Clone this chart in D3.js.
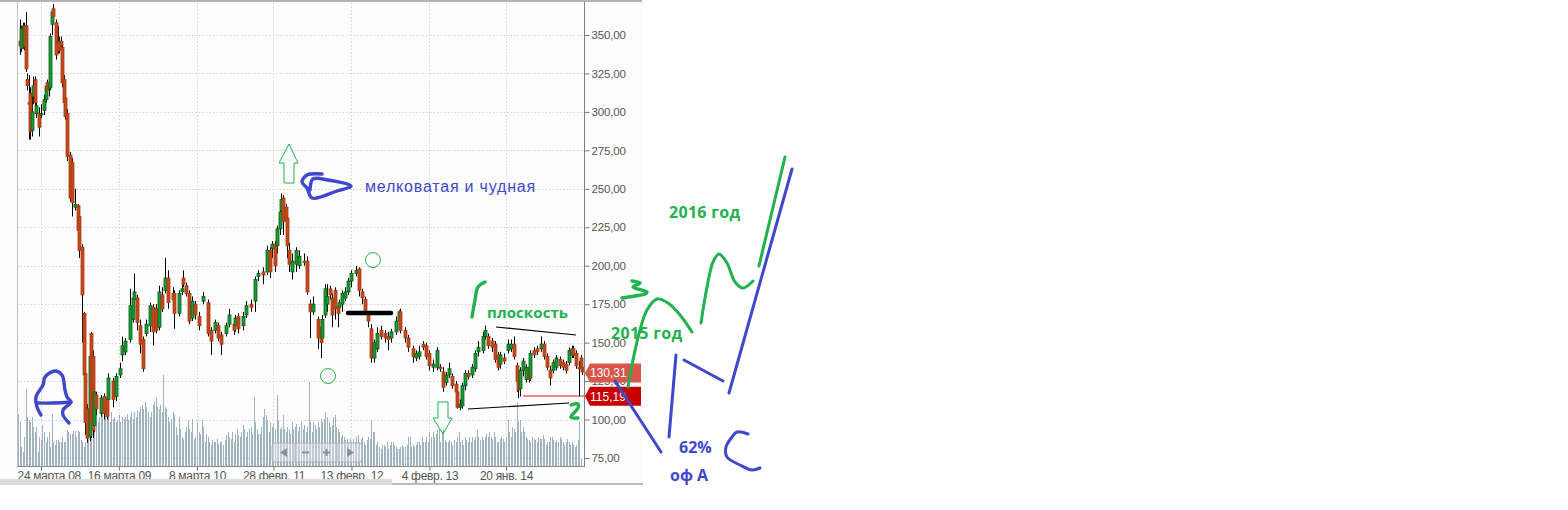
<!DOCTYPE html>
<html><head><meta charset="utf-8">
<script src="https://cdn.jsdelivr.net/npm/d3@7/dist/d3.min.js"></script>
<style>html,body{margin:0;padding:0;background:#fff}svg{display:block}</style>
</head><body><svg id="c" width="1568" height="510"></svg>
<script>
// ---- candle data: week index since chart start and OHLC prices ----
const weeks=[1,2,3,4,5,6,7,8,9,10, 11,12,14,15,17,18,19,20,21,22, 23,25,26,27,28,29,30,31,32,34, 35,37,39,40,42,43,44,45,47,48,
49,50,51,54,56,58,59,62,64,67, 68,70,73,75,76,78,80,82,84,86, 88,90,92,94,96,98,101,102,105,107, 108,110,112,114,116,118,121,124,126,129,
131,133,136,138,141,142,144,147,149,152, 155,157,160,163,165,166,168,169,171,172, 173,175,176,177,179,182,184,187,189,191, 193,196,198,199,201,202,204,205,207,209,
210,212,214,216,218,221,223,225,227,229, 231,233,235,237,240,242,244,247,249,250, 253,255,258,260,262,265,267,269,271,274, 276,278,280,282,284,286,287,289,290,292,
294,297,299,301,304,305,307,310,312,314, 315,318,320,322,324,326,327,328,330,332, 334,335,337,339,342,344,346,348,350,352, 354,356,358,360,362,363,365,367,368,369];
const opens=[346,341,356,342,356,321,306,312,288,310, 321,299,299,298,301,308,319,315,316,357, 367,358,345,345,346,342,321,309,299,272, 267,238,239,232,212,169,130,107,89,156,
141,96,116,104,115,114,113,125,115,129, 142,144,152,165,178,179,161,152,156,161, 173,172,160,181,184,192,182,182,169,183, 192,187,182,166,175,167,177,176,158,158,
161,155,156,162,162,161,167,161,168,175, 177,193,196,196,210,211,214,213,224,236, 244,238,231,210,196,201,200,203,203,175, 170,165,160,153,168,175,185,179,184,173,
173,175,179,183,190,195,198,183,178,168, 159,140,146,158,156,154,153,157,164,170, 158,153,146,140,141,149,148,143,134,134, 134,131,124,129,128,123,118,108,109,122,
130,129,133,144,145,154,154,151,149,142, 136,140,145,146,149,135,125,120,132,126, 134,127,145,146,146,149,141,132,132,134, 139,137,136,137,142,146,143,134,140,134];
const closes=[343,354,343,356,328,317,305,287,300,317, 306,304,290,299,308,317,314,317,349,365, 362,337,346,340,343,319,306,297,271,244, 241,240,223,210,181,129,98,88,141,98,
93,118,107,114,104,102,127,113,128,133, 148,151,174,179,183,163,149,133,162,174, 157,158,183,172,192,176,178,169,182,185, 188,182,164,177,168,161,180,156,151,163,
153,149,161,168,158,166,159,167,174,173, 191,195,194,210,196,214,200,224,235,243, 229,229,213,201,203,210,206,202,183,170, 175,153,150,165,185,180,181,168,172,169,
176,182,183,190,195,197,184,179,171,164, 140,150,156,154,153,152,157,164,170,158, 153,147,141,143,144,147,141,135,136,145, 133,121,129,133,122,118,108,110,122,130,
128,134,143,147,154,158,148,147,139,134, 142,138,149,149,141,125,119,132,138,134, 126,143,142,144,149,141,134,127,137,140, 135,134,132,145,146,142,135,133,134,131];
const highs=[360,356,358,358,365,325,324,316,312,323, 323,315,303,305,311,319,321,320,351,367, 370,360,356,349,349,344,324,312,302,274, 270,250,240,235,214,170,135,110,143,157,
145,120,118,116,117,116,130,127,130,137, 154,153,185,183,195,181,165,154,165,176, 175,175,187,186,205,197,186,184,184,190, 197,189,184,180,177,170,183,178,160,165,
163,157,163,172,165,168,169,170,177,178, 193,197,199,213,212,216,216,226,238,247, 246,240,233,215,208,212,210,208,206,178, 180,167,165,168,188,188,187,182,186,175,
178,184,186,192,197,200,199,185,180,170, 162,152,160,161,158,157,159,167,171,172, 160,155,148,145,148,151,150,145,139,147, 136,134,131,137,130,125,120,113,124,132,
132,136,145,151,157,161,156,153,151,144, 144,143,152,152,154,137,127,134,140,136, 136,145,147,148,154,151,143,135,139,142, 141,139,138,147,148,148,145,138,142,136];
const lows=[337,339,341,340,326,314,282,282,284,305, 303,296,284,296,298,306,311,310,314,350, 357,334,338,338,340,316,302,295,268,242, 232,236,218,205,150,127,90,85,86,88,
88,92,103,102,100,100,110,108,112,127, 138,142,150,163,176,158,143,131,154,157, 148,156,158,170,182,172,176,159,167,181, 186,180,162,164,165,158,175,154,142,156,
151,142,154,160,155,157,156,158,166,170, 170,190,188,194,192,205,196,208,220,233, 220,222,205,196,191,196,198,200,181,153, 168,146,140,150,166,170,178,160,165,160,
170,170,177,181,186,193,180,175,168,160, 137,137,144,152,150,145,150,155,160,156, 150,144,137,138,139,145,139,132,131,132, 131,118,122,127,120,115,107,106,107,119,
126,127,131,141,143,152,146,144,137,132, 133,136,143,144,139,118,114,115,128,124, 124,125,140,142,144,139,132,122,130,132, 133,132,130,135,140,140,133,115,131,129];
// ---- weekly volume (relative units, one value per week) ----
const volumes=[53,45,20,15,30,78,50,47,45,50,40,35,40,15,30,27,42,35,25,30,35,20,53,25,22,27,27,25,25,30,25,25,37,35,33,33,36,36,30,36,35,27,25,20,25,35,40,45,50,55,
50,60,45,50,60,55,50,55,60,50,45,55,48,50,45,47,52,45,50,48,50,53,47,50,55,48,55,50,57,55,60,62,58,65,60,55,50,55,62,65,70,60,58,62,55,92,
60,58,50,45,48,55,52,40,32,50,38,30,28,35,40,47,38,35,48,28,30,45,35,33,47,40,25,33,30,25,22,27,25,25,28,23,25,25,22,27,32,35,30,28,35,25,33,38,32,30,35,42,38,30,35,38,40,33,70,
45,38,33,33,40,50,58,52,47,35,45,40,43,38,72,
47,38,40,52,38,35,40,38,33,45,38,40,43,36,40,45,38,42,35,40,85,
45,35,45,42,38,45,40,48,45,48,55,50,45,40,42,50,52,40,38,35,30,32,30,27,28,25,28,25,28,25,30,32,25,28,30,25,22,27,30,28,47,
35,35,22,25,20,18,22,22,20,25,18,22,25,25,22,20,18,18,20,22,20,20,22,30,30,20,22,20,22,25,25,22,30,25,25,30,25,35,30,35,30,33,37,
38,25,35,37,27,25,25,27,25,22,27,25,30,35,25,27,22,30,27,25,30,25,30,27,30,37,
30,27,30,27,30,33,30,35,30,28,35,30,25,25,28,30,28,25,30,47,35,30,40,38,35,65,
45,47,35,40,35,30,28,27,25,30,28,27,25,30,28,28,32,28,22,25,25,30,30,27,25,27,25,30,28,25,22,25,28,25,22,25,22,20,22,27,45,8];
// ---- axes ----
const priceTicks=[75,100,125,150,175,200,225,250,275,300,325,350];
const tickWeeks=[15,66,117,167,218,269,319];
const tickLabels=["24 марта 08","16 марта 09","8 марта 10","28 февр. 11","13 февр. 12","4 февр. 13","20 янв. 14"];
const markers=[{v:130.31,label:"130,31",fill:"#d9574a"},{v:115.19,label:"115,19",fill:"#c80000"}];

const svg=d3.select("#c");
const x=d3.scaleLinear().domain([0,370]).range([18,584]);
const y=d3.scaleLinear().domain([75,350]).range([458,35]);
const vol=d3.scaleLinear().domain([0,100]).range([466.5,366.5]);
const px=v=>Math.round(v)+.5;
const FONT="'Liberation Sans',Arial,sans-serif";

// backgrounds
svg.append("rect").attr("x",0).attr("y",0).attr("width",642).attr("height",484).attr("fill","#fdfdfd");
svg.append("rect").attr("x",0).attr("y",0).attr("width",642).attr("height",2).attr("fill","#b4b4b4");

// grid
const grid=svg.append("g").attr("stroke","#d2d6d2").attr("stroke-dasharray","1.5,2");
grid.selectAll("line.h").data(priceTicks).join("line").attr("x1",17).attr("x2",584).attr("y1",d=>px(y(d))).attr("y2",d=>px(y(d)));
grid.selectAll("line.v").data(tickWeeks).join("line").attr("x1",d=>px(x(d))).attr("x2",d=>px(x(d))).attr("y1",3).attr("y2",466);

// volume
svg.append("g").attr("shape-rendering","crispEdges").selectAll("rect").data(volumes).join("rect")
 .attr("x",(d,i)=>Math.round(x(i))).attr("width",1).attr("y",d=>vol(d)).attr("height",d=>vol(0)-vol(d)).attr("fill","#9fb3c1");

// candles
const idx=d3.range(weeks.length);
const cg=svg.append("g");
cg.selectAll("line").data(idx).join("line").attr("x1",i=>px(x(weeks[i]))).attr("x2",i=>px(x(weeks[i])))
 .attr("y1",i=>y(highs[i])).attr("y2",i=>y(lows[i])).attr("stroke","#000").attr("stroke-width",1);
cg.selectAll("rect").data(idx).join("rect")
 .attr("x",i=>px(x(weeks[i]))-1.5).attr("width",3)
 .attr("y",i=>y(Math.max(opens[i],closes[i])))
 .attr("height",i=>Math.max(1,Math.abs(y(opens[i])-y(closes[i]))))
 .attr("fill",i=>closes[i]>=opens[i]?"#1c9a35":"#c4481c")
 .attr("stroke",i=>closes[i]>=opens[i]?"#0c5c1c":"#a83c14").attr("stroke-width",.8);

// axis frame
const yAxis=d3.axisRight(y).tickValues(priceTicks).tickSize(5).tickPadding(2).tickFormat(d=>d3.format(".2f")(d).replace(".",","));
const ya=svg.append("g").attr("transform","translate(584.5,0)").call(yAxis);
ya.select(".domain").remove();
ya.selectAll("line").attr("stroke","#777");
ya.selectAll("text").attr("fill","#555").attr("font-family",FONT).attr("font-size",11.5).attr("letter-spacing",-.15);
svg.append("line").attr("x1",584.5).attr("x2",584.5).attr("y1",2).attr("y2",467).attr("stroke","#808080");
svg.append("line").attr("x1",17.5).attr("x2",17.5).attr("y1",2).attr("y2",467).attr("stroke","#c0c0c0");
svg.append("line").attr("x1",17).attr("x2",585).attr("y1",466.5).attr("y2",466.5).attr("stroke","#8a8a8a");
const xAxis=d3.axisBottom(x).tickValues(tickWeeks).tickSize(4).tickPadding(1).tickFormat((d,i)=>tickLabels[i]);
const xa=svg.append("g").attr("transform","translate(0,466.5)").call(xAxis);
xa.select(".domain").remove();
xa.selectAll("line").attr("stroke","#777");
xa.selectAll("text").attr("fill","#555").attr("font-family",FONT).attr("font-size",12).attr("letter-spacing",-.3);
xa.select(".tick text").attr("text-anchor","start").attr("x",x(0)-1-x(tickWeeks[0]));

// strip under the chart
svg.append("rect").attr("x",0).attr("y",479).attr("width",392).attr("height",6).attr("fill","#dddddd");
svg.append("rect").attr("x",392).attr("y",483).attr("width",251).attr("height",2).attr("fill","#bcbcbc");

// navigator
const nav=svg.append("g").attr("transform","translate(272,443)");
nav.append("rect").attr("width",90).attr("height",19).attr("rx",3).attr("fill","rgba(235,235,235,.45)").attr("stroke","#b0b6ba");
[23,44,65].forEach(d=>nav.append("line").attr("x1",d).attr("x2",d).attr("y1",0).attr("y2",19).attr("stroke","#b0b6ba"));
nav.append("path").attr("d","M8,9.5L15,5V14Z").attr("fill","#8a9298");
nav.append("path").attr("d","M30,8.5H37V10.5H30Z").attr("fill","#8a9298");
nav.append("path").attr("d","M51,8.5H58V10.5H51ZM53.5,6H55.5V13H53.5Z").attr("fill","#8a9298");
nav.append("path").attr("d","M82,9.5L75,5V14Z").attr("fill","#8a9298");

// price markers
const mk=svg.append("g").selectAll("g").data(markers).join("g").attr("transform",d=>`translate(0,${y(d.v)})`);
mk.append("path").attr("d","M585,0L590,-9.5H641V9.5H590Z").attr("fill",d=>d.fill);
mk.append("text").attr("x",590).attr("y",4.5).attr("fill","#fff").attr("font-family",FONT).attr("font-size",12).text(d=>d.label);

// ---- hand-drawn annotations (screen pixels) ----
const BLUE="#3f48cc",GREEN="#22b14c";
const scr=d3.line().curve(d3.curveCatmullRom);
const straight=d3.line();
const blueThick=[
 [[41,415],[37,407],[36,397],[43,385],[45,377],[55,371],[62,375],[65,390],[67,397],[71,402],[63,410],[63,415],[69,423]],
 [[37,403],[53,403],[71,402]],
 [[322,174],[307,175],[302,182],[307,188],[312,198],[337,191],[351,186],[328,180],[313,179],[310,190]]];
const blueLines=[
 [[729,393],[792,169]],[[669,437],[676,355]],[[684,360],[723,381]],[[615,381],[661,452]],
 [[748,434],[737,432],[732,437],[726,447],[727,457],[740,465],[752,470],[760,468]]];
const greenMarks=[
 [[485,282],[478,287],[475,300],[472,317]],
 [[571,405],[578,404],[578,408],[571,417],[578,418]],
 [[622,298],[635,296],[645,294],[647,292],[633,287],[640,283],[632,281]]];
const greenLines=[
 [[628,387],[633,360],[640,330],[647,310],[657,299],[668,303],[680,315],[692,332]],
 [[701,323],[707,287],[713,262],[719,254],[727,263],[735,282],[743,288],[753,281]],
 [[759,266],[785,157]]];
const ann=svg.append("g").attr("fill","none").attr("stroke-linecap","round").attr("stroke-linejoin","round");
ann.append("g").selectAll("path").data(blueThick).join("path").attr("d",scr).attr("stroke",BLUE).attr("stroke-width",3.4);
ann.append("g").selectAll("path").data(blueLines).join("path").attr("d",scr).attr("stroke",BLUE).attr("stroke-width",3);
ann.append("g").selectAll("path").data(greenMarks).join("path").attr("d",scr).attr("stroke",GREEN).attr("stroke-width",3.4);
ann.append("g").selectAll("path").data(greenLines).join("path").attr("d",scr).attr("stroke",GREEN).attr("stroke-width",3);
const arrows=[[[289,144],[279,163],[284,163],[284,183],[294,183],[294,163],[298,163],[289,144]],
 [[438,402],[448,402],[448,418],[452,418],[443,434],[433,418],[438,418],[438,402]]];
svg.append("g").selectAll("path").data(arrows).join("path").attr("d",straight).attr("fill","none").attr("stroke",GREEN).attr("stroke-width",1);
svg.append("g").selectAll("circle").data([[373,260],[328,376]]).join("circle").attr("cx",d=>d[0]).attr("cy",d=>d[1]).attr("r",7.5).attr("fill","none").attr("stroke",GREEN).attr("stroke-width",1);
svg.append("path").attr("d",straight([[348,313],[391,313]])).attr("stroke","#000").attr("stroke-width",4.5).attr("stroke-linecap","round");
svg.append("path").attr("d",straight([[496,327],[576,335]])).attr("stroke","#000").attr("stroke-width",1.2);
svg.append("path").attr("d",straight([[468,409],[569,403]])).attr("stroke","#000").attr("stroke-width",1.2);
svg.append("path").attr("d",straight([[523,396],[584,396]])).attr("stroke","#d8141c").attr("stroke-width",1.2);
const notes=[
 {t:"мелковатая и чудная",x:365,y:192,c:BLUE,s:16,w:500,ls:.8},
 {t:"плоскость",x:487,y:318,c:GREEN,s:15,w:700,ls:.1},
 {t:"2016 год",x:669,y:218,c:GREEN,s:16,w:700,ls:.3},
 {t:"2015 год",x:611,y:339,c:GREEN,s:16,w:700,ls:.3},
 {t:"62%",x:679,y:453,c:BLUE,s:16,w:700,ls:0},
 {t:"оф А",x:670,y:481,c:BLUE,s:16,w:700,ls:0}];
svg.append("g").selectAll("text").data(notes).join("text").attr("x",d=>d.x).attr("y",d=>d.y).attr("fill",d=>d.c)
 .attr("font-size",d=>d.s).attr("font-weight",d=>d.w).attr("letter-spacing",d=>d.ls)
 .attr("font-family",d=>d.w===500?"'Liberation Sans',sans-serif":"'Open Sans',sans-serif").text(d=>d.t);
</script></body></html>
